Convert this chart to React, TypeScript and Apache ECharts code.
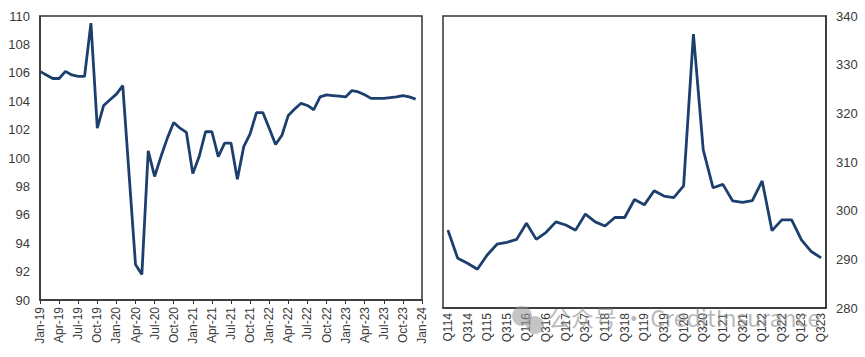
import React, { useEffect, useRef } from "react";
import * as echarts from "echarts";

const leftMonths: string[] = (() => {
  const m = ["Jan", "Feb", "Mar", "Apr", "May", "Jun", "Jul", "Aug", "Sep", "Oct", "Nov", "Dec"];
  const out: string[] = [];
  for (let y = 19; y <= 23; y++) for (const mm of m) out.push(`${mm}-${y}`);
  out.push("Jan-24");
  return out;
})();

const leftValues: (number | null)[] = [
  106.1, 105.85, 105.6, 105.6, 106.1, 105.85, 105.75, 105.75, 109.5, 102.1, 103.7, 104.1,
  104.5, 105.1, 98.8, 92.5, 91.8, 100.5, 98.7, 100.1, 101.4, 102.5, 102.1, 101.8,
  98.9, 100.1, 101.85, 101.85, 100.1, 101.05, 101.05, 98.5, 100.8, 101.7, 103.2, 103.2,
  102.1, 100.95, 101.6, 103.0, 103.45, 103.85, 103.7, 103.4, 104.3, 104.45, 104.4, 104.35,
  104.3, 104.75, 104.65, 104.45, 104.2, 104.2, 104.2, 104.25, 104.3, 104.4, 104.3, 104.15,
  null,
];

const rightQuarters: string[] = [
  "Q114", "Q214", "Q314", "Q414", "Q115", "Q215", "Q315", "Q415",
  "Q116", "Q216", "Q316", "Q416", "Q117", "Q217", "Q317", "Q417",
  "Q118", "Q218", "Q318", "Q418", "Q119", "Q219", "Q319", "Q419",
  "Q120", "Q220", "Q320", "Q420", "Q121", "Q221", "Q321", "Q421",
  "Q122", "Q222", "Q322", "Q422", "Q123", "Q223", "Q323",
];

const rightValues: number[] = [
  296.0, 290.2, 289.2, 287.95, 290.9, 293.1, 293.5, 294.1,
  297.4, 294.1, 295.55, 297.7, 297.05, 296.0, 299.3, 297.7,
  296.85, 298.6, 298.6, 302.3, 301.2, 304.1, 303.0, 302.7,
  305.1, 336.3, 312.5, 304.7, 305.4, 302.0, 301.7, 302.05,
  306.1, 295.9, 298.1, 298.1, 294.0, 291.6, 290.3,
];

const LINE = "#1C3F6E";
const AXIS = "#333333";
const TEXT = "#3a3a3a";
const FONT = "Liberation Sans, Arial, sans-serif";

export default function App() {
  const ref = useRef<HTMLDivElement>(null);
  useEffect(() => {
    if (!ref.current) return;
    const chart = echarts.init(ref.current, undefined, { renderer: "svg" });
    const labelStyle = { color: TEXT, fontSize: 13, fontFamily: FONT };
    chart.setOption({
      animation: false,
      backgroundColor: "#fff",
      grid: [
        { left: 40, right: 443, top: 16, bottom: 57, show: true, borderColor: AXIS, borderWidth: 1.5, backgroundColor: "transparent" },
        { left: 443, right: 39, top: 16, bottom: 49, show: true, borderColor: AXIS, borderWidth: 1.5, backgroundColor: "transparent" },
      ],
      xAxis: [
        {
          type: "category",
          gridIndex: 0,
          data: leftMonths,
          boundaryGap: false,
          axisLine: { show: true, lineStyle: { color: AXIS, width: 1.5 } },
          axisTick: { show: true, interval: 2, length: 4, lineStyle: { color: AXIS } },
          axisLabel: { interval: 2, rotate: 90, margin: 7, color: TEXT, fontSize: 12, fontFamily: FONT },
          splitLine: { show: false },
        },
        {
          type: "category",
          gridIndex: 1,
          data: rightQuarters,
          boundaryGap: true,
          axisLine: { show: true, lineStyle: { color: AXIS, width: 1.5 } },
          axisTick: { show: false },
          axisLabel: { interval: 1, rotate: 90, margin: 5, color: TEXT, fontSize: 12, fontFamily: FONT },
          splitLine: { show: false },
        },
      ],
      yAxis: [
        {
          type: "value",
          gridIndex: 0,
          min: 90,
          max: 110,
          interval: 2,
          axisLine: { show: true, lineStyle: { color: AXIS, width: 1.5 } },
          axisTick: { show: false },
          axisLabel: { ...labelStyle, margin: 10 },
          splitLine: { show: false },
        },
        {
          type: "value",
          gridIndex: 1,
          position: "right",
          min: 280,
          max: 340,
          interval: 10,
          axisLine: { show: true, lineStyle: { color: AXIS, width: 1.5 } },
          axisTick: { show: false },
          axisLabel: { ...labelStyle, margin: 10 },
          splitLine: { show: false },
        },
      ],
      series: [
        {
          type: "line",
          xAxisIndex: 0,
          yAxisIndex: 0,
          data: leftValues,
          symbol: "none",
          lineStyle: { color: LINE, width: 2.8 },
        },
        {
          type: "line",
          xAxisIndex: 1,
          yAxisIndex: 1,
          data: rightValues,
          symbol: "none",
          lineStyle: { color: LINE, width: 2.8 },
        },
      ],
      graphic: [
        { type: "circle", shape: { cx: 522, cy: 316, r: 10 }, style: { fill: "rgba(150,150,150,0.55)" }, z: 100 },
        { type: "circle", shape: { cx: 535, cy: 325, r: 9 }, style: { fill: "rgba(150,150,150,0.55)" }, z: 100 },
        {
          type: "text",
          left: 548,
          top: 305,
          z: 100,
          style: {
            text: "公众号 · CreditInsurance",
            fill: "rgba(140,140,140,0.6)",
            font: `23px "Noto Sans CJK SC", ${FONT}`,
          },
        },
      ],
    });
    return () => chart.dispose();
  }, []);
  return (
    <div
      ref={ref}
      style={{ position: "fixed", left: 0, top: 0, width: 865, height: 357 }}
    />
  );
}
